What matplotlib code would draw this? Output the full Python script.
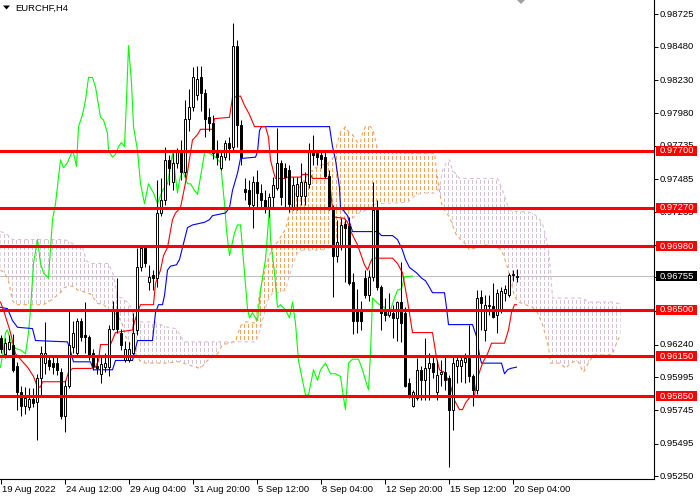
import numpy as np
import matplotlib
matplotlib.use("Agg")
import matplotlib.pyplot as plt
from matplotlib import transforms
from matplotlib.colors import to_rgb
from matplotlib.patches import Polygon, Rectangle
from matplotlib.path import Path

# EURCHF H4 candles, one per bar from 19 Aug 2022 20:00
opens = [
    .9629, .9617, .9621, .9624, .9608, .9588, .9578, .9577, .9583, .9581,
    .9599, .9610, .9612, .9610, .9610, .9603, .9570, .9593, .9622, .9618,
    .9642, .9631, .9630, .9618, .9608, .9602, .9607, .9607, .9636, .9650,
    .9633, .9612, .9612, .9618, .9635, .9682, .9697, .9671, .9676, .9674,
    .9723, .9733, .9763, .9746, .9761, .9770, .9754, .9794, .9803, .9812,
    .9825, .9813, .9795, .9791, .9768, .9757, .9765, .9776, .9773, .9849,
    .9789, .9741, .9740, .9729, .9746, .9738, .9733, .9727, .9735, .9742,
    .9761, .9757, .9755, .9727, .9736, .9736, .9736, .9745, .9769, .9768,
    .9767, .9765, .9751, .9727, .9691, .9699, .9715, .9713, .9671, .9650,
    .9650, .9674, .9661, .9675, .9725, .9667, .9650, .9646, .9648, .9644,
    .9656, .9648, .9595, .9578, .9584, .9605, .9597, .9606, .9610, .9588,
    .9602, .9603, .9599, .9575, .9608, .9608, .9611, .9614, .9600, .9590,
    .9660, .9635, .9653, .9653, .9646, .9650, .9663, .9661, .9676, .9675,
]
highs = [
    .9631, .9629, .9631, .9632, .9611, .9593, .9592, .9591, .9591, .9602,
    .9623, .9641, .9616, .9616, .9615, .9606, .9597, .9650, .9642, .9644,
    .9644, .9656, .9631, .9621, .9615, .9615, .9618, .9639, .9657, .9674,
    .9636, .9627, .9626, .9648, .9697, .9699, .9699, .9684, .9680, .9748,
    .9749, .9773, .9767, .9768, .9772, .9778, .9808, .9816, .9833, .9834,
    .9834, .9816, .9802, .9797, .9778, .9770, .9778, .9780, .9866, .9853,
    .9793, .9749, .9748, .9751, .9755, .9745, .9740, .9738, .9750, .9787,
    .9763, .9761, .9759, .9750, .9750, .9761, .9754, .9776, .9782, .9770,
    .9770, .9770, .9755, .9729, .9718, .9719, .9718, .9720, .9678, .9666,
    .9657, .9680, .9680, .9746, .9733, .9669, .9659, .9663, .9654, .9657,
    .9686, .9652, .9599, .9590, .9614, .9608, .9629, .9618, .9616, .9612,
    .9612, .9616, .9601, .9615, .9615, .9616, .9618, .9639, .9602, .9665,
    .9665, .9661, .9661, .9670, .9666, .9667, .9669, .9678, .9680, .9681,
]
lows = [
    .9618, .9614, .9620, .9603, .9575, .9570, .9572, .9575, .9577, .9552,
    .9586, .9602, .9605, .9602, .9601, .9568, .9558, .9591, .9618, .9616,
    .9627, .9618, .9612, .9605, .9602, .9595, .9603, .9600, .9635, .9633,
    .9620, .9611, .9611, .9615, .9631, .9679, .9682, .9665, .9665, .9667,
    .9721, .9729, .9744, .9740, .9757, .9748, .9750, .9785, .9800, .9808,
    .9800, .9780, .9785, .9764, .9759, .9755, .9763, .9763, .9770, .9773,
    .9759, .9733, .9727, .9712, .9727, .9727, .9723, .9720, .9727, .9740,
    .9729, .9727, .9724, .9725, .9725, .9729, .9729, .9742, .9759, .9759,
    .9757, .9749, .9725, .9660, .9686, .9695, .9671, .9669, .9632, .9633,
    .9635, .9659, .9657, .9672, .9665, .9635, .9642, .9645, .9629, .9627,
    .9626, .9592, .9584, .9577, .9582, .9582, .9582, .9582, .9599, .9582,
    .9593, .9590, .9532, .9560, .9595, .9596, .9595, .9596, .9578, .9587,
    .9635, .9627, .9646, .9644, .9633, .9648, .9657, .9660, .9672, .9671,
]
closes = [
    .9621, .9625, .9626, .9605, .9588, .9578, .9584, .9583, .9580, .9599,
    .9618, .9618, .9608, .9607, .9605, .9570, .9593, .9624, .9633, .9642,
    .9630, .9630, .9616, .9608, .9606, .9609, .9610, .9636, .9651, .9636,
    .9624, .9621, .9621, .9633, .9682, .9697, .9685, .9675, .9674, .9723,
    .9733, .9763, .9757, .9761, .9770, .9754, .9794, .9803, .9825, .9824,
    .9813, .9794, .9791, .9768, .9765, .9766, .9776, .9772, .9849, .9789,
    .9765, .9739, .9730, .9746, .9738, .9733, .9727, .9735, .9744, .9761,
    .9735, .9750, .9730, .9744, .9745, .9746, .9746, .9769, .9767, .9765,
    .9764, .9751, .9727, .9691, .9701, .9714, .9712, .9670, .9642, .9642,
    .9642, .9661, .9675, .9725, .9667, .9648, .9646, .9650, .9644, .9656,
    .9640, .9593, .9586, .9588, .9605, .9597, .9606, .9610, .9603, .9601,
    .9603, .9597, .9575, .9610, .9612, .9612, .9614, .9600, .9590, .9659,
    .9655, .9654, .9654, .9645, .9663, .9664, .9666, .9676, .9677, .96755,
]

# Ichimoku lines (bar position, price)
tenkan_x = [0, .75, 2.5, 3.75, 6.75, 8.25, 9.25, 10, 10.5, 16.25,
            17, 18, 22.5, 23.75, 24.5, 25, 27.5, 28.75, 33, 33.5,
            34.25, 35, 38.25, 38.75, 40, 40.75, 41.75, 43, 43.75, 45,
            46, 46.75, 48, 49.25, 50, 53, 53.5, 57.25, 58, 60,
            61, 62.25, 63.5, 66.25, 67, 67.5, 68.25, 68.75, 71.25, 71.75,
            75, 75.5, 77.5, 78, 82.25, 82.75, 83.25, 86, 86.75, 87.75,
            89.25, 91, 91.75, 92.5, 93, 98, 99.25, 100.5, 101.75, 103,
            108, 109, 109.75, 111, 112.5, 113.5, 114.75, 115.5, 116.25, 117.25,
            118.5, 119.25, 120.5, 121.75, 122.75, 126, 127, 127.75, 128.5, 129]
tenkan = [.9656, .9650, .9633, .9617, .9607, .9600, .9592, .9592, .9596, .9596,
          .9603, .9606, .9606, .9607, .9612, .9624, .9624, .9633, .9635, .9641,
          .9648, .9654, .9654, .9670, .9680, .9691, .9697, .9718, .9723, .9727,
          .9742, .9754, .9778, .9782, .9786, .9786, .9794, .9795, .9810, .9811,
          .9804, .9797, .9788, .9788, .9780, .9763, .9754, .9749, .9749, .9750,
          .9750, .9752, .9752, .9749, .9749, .9733, .9720, .9719, .9716, .9708,
          .9699, .9684, .9680, .9686, .9689, .9689, .9685, .9678, .9657, .9633,
          .9633, .9614, .9605, .9603, .9593, .9582, .9575, .9575, .9580, .9584,
          .9586, .9599, .9610, .9617, .9625, .9625, .9635, .9648, .9654, .9654]

kijun_x = [0, 1.75, 3, 4.25, 8, 8.75, 16.75, 17.5, 18.25, 22.5,
           23.25, 28, 28.75, 33, 33.5, 34.25, 38, 38.75, 39.5, 40.5,
           41, 41.75, 42.5, 44, 44.75, 45.5, 46.75, 48, 51, 52.25,
           53, 56.25, 57.25, 58, 59.25, 60, 63.75, 64.25, 64.75, 65.25,
           82.25, 83, 83.75, 84.75, 85, 86, 86.75, 88, 94.25, 95.25,
           98, 99.25, 100.5, 101.25, 102.25, 104, 105.25, 106.25, 107.25, 108,
           111, 111.5, 112, 118, 119, 119.75, 120.25, 125.25, 126, 126.75,
           127.5, 129]
kijun = [.9652, .9651, .9642, .9637, .9636, .9627, .9626, .9619, .9611, .9611,
         .9605, .9605, .9612, .9612, .9618, .9627, .9627, .9648, .9654, .9654,
         .9661, .9680, .9683, .9684, .9688, .9697, .9712, .9714, .9716, .9718,
         .9721, .9723, .9727, .9740, .9753, .9764, .9765, .9769, .9785, .9788,
         .9788, .9773, .9763, .9742, .9727, .9724, .9721, .9709, .9709, .9706,
         .9706, .9703, .9695, .9688, .9682, .9678, .9674, .9672, .9667, .9663,
         .9663, .9652, .9639, .9639, .9630, .9616, .9610, .9610, .9602, .9605,
         .9606, .9607]

chikou_x = [0, .75, 1.25, 1.75, 2.5, 3.75, 5, 6.25, 7, 7.5,
            8.25, 9.25, 10, 10.75, 12, 13, 13.75, 15, 15.75, 16.75,
            18, 18.5, 19, 19.5, 20.5, 21.25, 22, 23, 23.75, 25,
            25.75, 26.75, 27, 28, 28.75, 29.5, 30.25, 31, 31.5, 32,
            32.75, 33.25, 34.25, 35, 36, 37, 38.25, 39.25, 40.5, 41.75,
            42.5, 43, 43.75, 44.25, 44.75, 45.5, 46.75, 47.5, 48.5, 49.25,
            50, 51, 51.75, 53.75, 55, 56, 56.5, 57.25, 58.5, 59.25,
            60, 61, 61.75, 62.25, 63, 63.75, 64.25, 65, 66.25, 67.25,
            67.5, 68.5, 69.25, 70, 71.25, 72.25, 73, 73.75, 74.5, 75.5,
            76.25, 77, 78.25, 79.25, 80, 81.25, 82.5, 83.75, 85, 85.75,
            86.25, 87, 88, 89.5, 90.5, 91.25, 92, 92.5, 93, 94,
            94.75, 96, 96.75, 97.5, 98.5, 99.25, 100.25, 101, 103]
chikou = [.9607, .9620, .9633, .9635, .9627, .9621, .9620, .9617, .9633, .9650,
          .9685, .9703, .9685, .9678, .9674, .9718, .9730, .9763, .9757, .9761,
          .9770, .9765, .9758, .9788, .9797, .9808, .9825, .9825, .9818, .9795,
          .9793, .9783, .9770, .9765, .9767, .9773, .9776, .9773, .9808, .9849,
          .9821, .9788, .9770, .9745, .9730, .9745, .9738, .9730, .9740, .9745,
          .9758, .9768, .9750, .9738, .9748, .9755, .9745, .9745, .9740, .9737,
          .9750, .9768, .9769, .9765, .9761, .9730, .9710, .9691, .9708, .9714,
          .9714, .9678, .9651, .9644, .9648, .9644, .9642, .9665, .9688, .9727,
          .9703, .9678, .9652, .9654, .9650, .9644, .9656, .9640, .9612, .9597,
          .9586, .9586, .9605, .9597, .9605, .9610, .9602, .9602, .9600, .9584,
          .9575, .9610, .9613, .9613, .9605, .9597, .9590, .9617, .9659, .9656,
          .9654, .9652, .9646, .9650, .9659, .9665, .9666, .9675, .96755]

cloud_x = [0, 1, 2, 3, 4, 6.25, 8.25, 10.75, 12.5, 15,
           16, 18, 19.25, 20.5, 21.5, 22.5, 24.25, 25.75, 27, 28.25,
           29.25, 30.5, 31.25, 32, 33, 34, 35, 36.25, 38.25, 40,
           41.75, 43.75, 45, 45.75, 48.75, 50, 51.75, 54.25, 55.5, 57.5,
           58.75, 60, 61.25, 62.5, 63.75, 64.5, 65.5, 66.75, 68, 69.25,
           71.25, 73, 74.25, 75.5, 77, 78.75, 80, 81.75, 83.25, 84.25,
           85, 86.25, 87, 88, 89.25, 90, 90.5, 91.25, 92.5, 93.25,
           94, 94.5, 101.75, 104, 106, 108.5, 109, 109.75, 110.5, 111.5,
           112.25, 113, 114, 114.75, 116.5, 117.25, 119, 121, 123, 124.25,
           125.25, 126, 126.75, 127.75, 128.5, 129.5, 131.25, 133, 134.25, 135.5,
           136.25, 137, 137.5, 138, 140, 141.25, 142.5, 144.25, 145.75, 146.75,
           148.25, 151.75, 153, 154.25, 155]
span_a = [.9680, .9678, .9672, .9657, .9654, .9654, .9654, .9654, .9657, .9663,
          .9667, .9668, .9665, .9664, .9663, .9662, .9655, .9654, .9650, .9648,
          .9646, .9639, .9630, .9627, .9621, .9616, .9611, .9610, .9610, .9610,
          .9610, .9611, .9611, .9610, .9607, .9606, .9612, .9617, .9624, .9625,
          .9627, .9638, .9641, .9641, .9640, .9657, .9672, .9687, .9697, .9701,
          .9711, .9732, .9740, .9746, .9753, .9757, .9759, .9760, .9765, .9776,
          .9784, .9788, .9784, .9782, .9776, .9776, .9783, .9788, .9788, .9784,
          .9774, .9769, .9768, .9768, .9768, .9768, .9755, .9739, .9727, .9723,
          .9720, .9714, .9706, .9704, .9699, .9695, .9697, .9699, .9698, .9697,
          .9695, .9689, .9682, .9670, .9660, .9656, .9654, .9652, .9648, .9639,
          .9631, .9622, .9610, .9610, .9610, .9606, .9610, .9612, .9603, .9609,
          .9616, .9616, .9617, .9627, .9631]
span_b = [.9709, .9708, .9706, .9703, .9703, .9703, .9703, .9703, .9703, .9703,
          .9703, .9700, .9697, .9697, .9687, .9685, .9685, .9685, .9685, .9676,
          .9660, .9659, .9657, .9655, .9650, .9644, .9641, .9641, .9641, .9639,
          .9637, .9636, .9631, .9626, .9626, .9626, .9626, .9626, .9626, .9626,
          .9626, .9626, .9626, .9626, .9626, .9631, .9642, .9657, .9663, .9663,
          .9665, .9684, .9693, .9695, .9695, .9695, .9695, .9696, .9700, .9704,
          .9708, .9715, .9717, .9719, .9722, .9724, .9724, .9725, .9727, .9729,
          .9730, .9730, .9731, .9737, .9738, .9738, .9739, .9742, .9755, .9761,
          .9763, .9755, .9752, .9749, .9749, .9749, .9749, .9749, .9749, .9749,
          .9742, .9736, .9729, .9724, .9724, .9724, .9724, .9723, .9720, .9715,
          .9706, .9695, .9680, .9659, .9659, .9659, .9659, .9659, .9659, .9656,
          .9656, .9656, .9656, .9655, .9655]

levels = [0.97700, 0.97270, 0.96980, 0.96500, 0.96150, 0.95850]
last_price = 0.96755
price_ticks = [0.98725, 0.98480, 0.98230, 0.97980, 0.97735, 0.97485, 0.97235,
               0.96990, 0.96745, 0.96495, 0.96240, 0.95995, 0.95745, 0.95495, 0.95250]
time_ticks = [0, 16, 32, 48, 64, 80, 96, 112, 128]
time_labels = ["19 Aug 2022", "24 Aug 12:00", "29 Aug 04:00", "31 Aug 20:00",
               "5 Sep 12:00", "8 Sep 04:00", "12 Sep 20:00", "15 Sep 12:00",
               "20 Sep 04:00"]

ORANGE = "#F4A460"
THISTLE = "#D8BFD8"
FONT = "Liberation Sans"
FS = 6.8

XMIN, XMAX = -0.125, 163.375
YMIN, YMAX = 0.95228, 0.98833
AX_W, AX_H = 654, 479

fig = plt.figure(figsize=(7, 5), dpi=100)
ax = fig.add_axes([0, 21 / 500, AX_W / 700, AX_H / 500])

# kumo: dotted vertical strokes, one per bar, clipped to the cloud
cx, sa, sb = np.array(cloud_x), np.array(span_a), np.array(span_b)
rows = np.arange(AX_H)[:, None]
cols = np.arange(AX_W)[None, :]
dots = ((cols % 4 == 0) & (rows % 6 < 4)).astype(float)
for where, col in ((sa >= sb, ORANGE), (sa < sb, THISTLE)):
    region = ax.fill_between(cx, sa, sb, where=where, interpolate=True,
                             facecolor="none", edgecolor="none")
    rgba = np.zeros((AX_H, AX_W, 4))
    rgba[..., :3] = to_rgb(col)
    rgba[..., 3] = dots
    im = ax.imshow(rgba, extent=(XMIN, XMAX, YMIN, YMAX), origin="upper",
                   interpolation="nearest", aspect="auto", zorder=1)
    im.set_clip_path(Path.make_compound_path(*region.get_paths()), transform=ax.transData)
ax.plot(cx, sa, color=ORANGE, lw=0.8, ls=(0, (3, 3)), zorder=1.5)
ax.plot(cx, sb, color=THISTLE, lw=0.8, ls=(0, (3, 3)), zorder=1.5)

ax.axhline(last_price, color="#C0C0C0", lw=0.8, zorder=1.2)
ax.plot(chikou_x, chikou, color="#00FF00", lw=0.8, zorder=2)
ax.plot(kijun_x, kijun, color="#0000FF", lw=0.8, zorder=2)
ax.plot(tenkan_x, tenkan, color="#FF0000", lw=0.8, zorder=2)

o, h, l, c = map(np.array, (opens, highs, lows, closes))
bars = np.arange(len(o))
bull = c >= o
ax.vlines(bars, l, h, color="black", lw=0.75, zorder=3)
ax.bar(bars[bull], (c - o)[bull], bottom=o[bull], width=0.5, facecolor="white",
       edgecolor="black", lw=0.7, zorder=4)
ax.bar(bars[~bull], (o - c)[~bull], bottom=c[~bull], width=0.5, facecolor="black",
       edgecolor="black", lw=0.7, zorder=4)

for v in levels:
    ax.axhline(v, color="#FF0000", lw=2.2, zorder=5)

ax.set_xlim(XMIN, XMAX)
ax.set_ylim(YMIN, YMAX)
for s in ("left", "top"):
    ax.spines[s].set_visible(False)
for s in ("right", "bottom"):
    ax.spines[s].set_linewidth(0.8)
ax.yaxis.tick_right()
ax.set_yticks(price_ticks)
ax.set_xticks(time_ticks)
ax.tick_params(axis="y", length=3, width=0.7, labelright=False, labelleft=False)
ax.tick_params(axis="x", length=3.6, width=0.7, labelbottom=False)

# right price scale with level tags
ty = transforms.blended_transform_factory(fig.transFigure, ax.transData)
for v in price_ticks:
    fig.text(660 / 700, v, f"{v:.5f}", transform=ty, ha="left", va="center",
             fontsize=FS, family=FONT, zorder=1)
half = 5 * (YMAX - YMIN) / AX_H
for v, bg in [(lv, "#FF0000") for lv in levels] + [(last_price, "black")]:
    fig.add_artist(Rectangle((656 / 700, v - half), 41 / 700, 2 * half, transform=ty,
                             facecolor=bg, edgecolor="none", zorder=2))
    fig.text(659.5 / 700, v, f"{v:.5f}", transform=ty, ha="left", va="center",
             fontsize=FS, family=FONT, color="white", zorder=3)

tx = transforms.blended_transform_factory(ax.transData, fig.transFigure)
for b, lab in zip(time_ticks, time_labels):
    fig.text(b + 0.35, 1 - 489 / 500, lab, transform=tx, ha="left", va="center",
             fontsize=FS, family=FONT)

fig.add_artist(Polygon([(3 / 700, 1 - 5.5 / 500), (10 / 700, 1 - 5.5 / 500),
                        (6.5 / 700, 1 - 9.5 / 500)], transform=fig.transFigure,
                       facecolor="black", edgecolor="none"))
fig.text(15 / 700, 1 - 8 / 500, "EURCHF,H4", ha="left", va="center",
         fontsize=FS, family=FONT)
fig.add_artist(Polygon([(517 / 700, 1.0), (525 / 700, 1.0), (521 / 700, 1 - 4 / 500)],
                       transform=fig.transFigure, facecolor="#A0A0A0", edgecolor="none"))

fig.savefig("out.png", dpi=100)
